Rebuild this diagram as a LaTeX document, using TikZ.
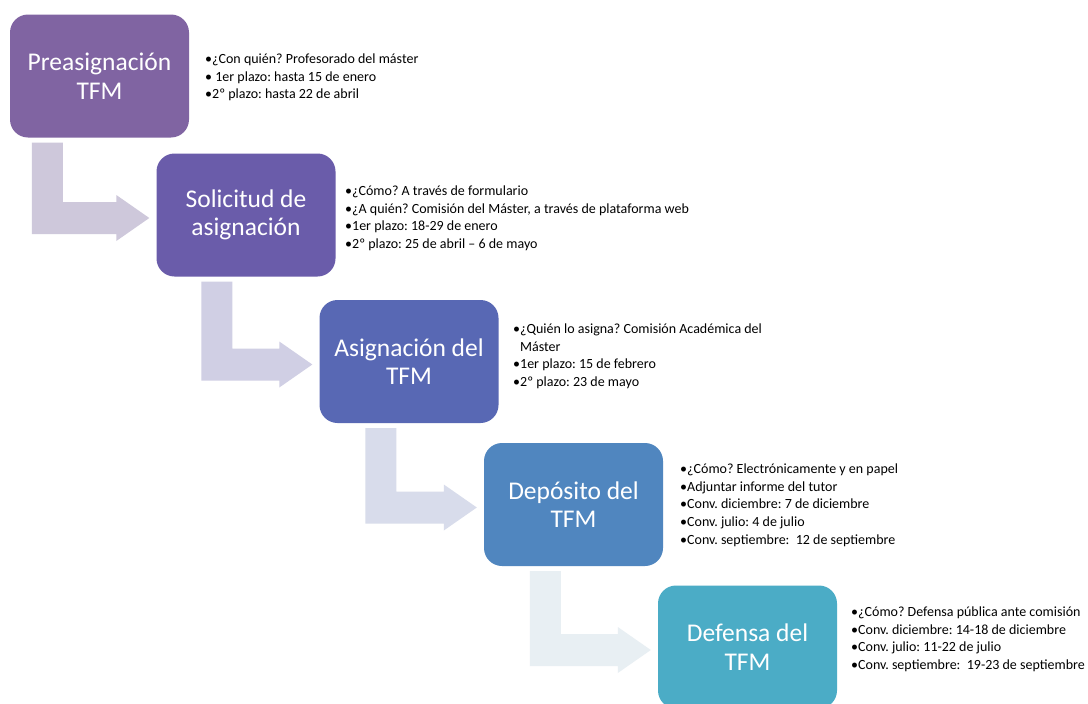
\documentclass[tikz,border=0pt]{standalone}
\usepackage{fontspec}
\setmainfont{Carlito}
\usetikzlibrary{calc}

\definecolor{boxone}{HTML}{8064A2}
\definecolor{boxtwo}{HTML}{6A5CAA}
\definecolor{boxthree}{HTML}{5868B4}
\definecolor{boxfour}{HTML}{5086BF}
\definecolor{boxfive}{HTML}{4BACC6}
\definecolor{arrowone}{HTML}{CEC8DB}
\definecolor{arrowtwo}{HTML}{D0CFE4}
\definecolor{arrowthree}{HTML}{D8DCEB}
\definecolor{arrowfour}{HTML}{E8EFF3}

\tikzset{
    stage/.style={rounded corners=18pt, minimum width=179pt, minimum height=123pt,
        text=white, align=center, inner sep=0pt,
        font=\fontsize{25.5}{28.5}\selectfont},
    info/.style={anchor=north west, align=left, inner sep=0pt,
        font=\fontsize{14}{17.7}\selectfont}
}

% bent arrow: colour, from node, stem offset, to node
\newcommand{\bentarrow}[4]{%
    \path ($(#2.south west)+(#3,5)$) coordinate (stemtop)
          ($(#4.west)+(-7,3)$) coordinate (tip);
    \fill[#1] (stemtop) -- ++(31,0) |- ([shift={(-33,-16)}]tip) -- ++(0,-7)
        -- (tip) -- ++(-33,23) -- ++(0,-7) -| (stemtop) -- cycle;
}

\frenchspacing

\begin{document}
\begin{tikzpicture}[x=1pt, y=-1pt]

\def\BULLET{\textbullet}
	\useasboundingbox (0,0) rectangle (1088,704);
	\clip (0,0) rectangle (1088,704);
	\fill[white] (0,0) rectangle (1088,704);

	\node[stage, fill=boxone] (pre) at (99.5,76) {Preasignación\\TFM};
	\node[stage, fill=boxtwo] (sol) at (246,215) {Solicitud de\\asignación};
	\node[stage, fill=boxthree] (asig) at (409,361.5) {Asignación del\\TFM};
	\node[stage, fill=boxfour] (dep) at (573.5,504.5) {Depósito del\\TFM};
	\node[stage, fill=boxfive] (def) at (747.5,647) {Defensa del\\TFM};

	\bentarrow{arrowone}{pre}{22}{sol}
	\bentarrow{arrowtwo}{sol}{45}{asig}
	\bentarrow{arrowthree}{asig}{46}{dep}
	\bentarrow{arrowfour}{dep}{46}{def}

	\node[info] (preinfo) at (205,53.5) {\BULLET¿Con quién? Profesorado del máster\\
		\BULLET\ 1er plazo: hasta 15 de enero\\
		\BULLET2º plazo: hasta 22 de abril};
	\node[info] (solinfo) at (345,185.5) {\BULLET¿Cómo? A través de formulario\\
		\BULLET¿A quién? Comisión del Máster, a través de plataforma web\\
		\BULLET1er plazo: 18-29 de enero\\
		\BULLET2º plazo: 25 de abril – 6 de mayo};
	\node[info] (asiginfo) at (513,323.5) {\BULLET¿Quién lo asigna? Comisión Académica del\\
		\phantom{\BULLET}Máster\\
		\BULLET1er plazo: 15 de febrero\\
		\BULLET2º plazo: 23 de mayo};
	\node[info] (depinfo) at (680,463.5) {\BULLET¿Cómo? Electrónicamente y en papel\\
		\BULLET Adjuntar informe del tutor\\
		\BULLET Conv. diciembre: 7 de diciembre\\
		\BULLET Conv. julio: 4 de julio\\
		\BULLET Conv. septiembre:\ \ 12 de septiembre};
	\node[info] (definfo) at (851,606.5) {\BULLET¿Cómo? Defensa pública ante comisión\\
		\BULLET Conv. diciembre: 14-18 de diciembre\\
		\BULLET Conv. julio: 11-22 de julio\\
		\BULLET Conv. septiembre:\ \ 19-23 de septiembre};

\end{tikzpicture}
\end{document}
